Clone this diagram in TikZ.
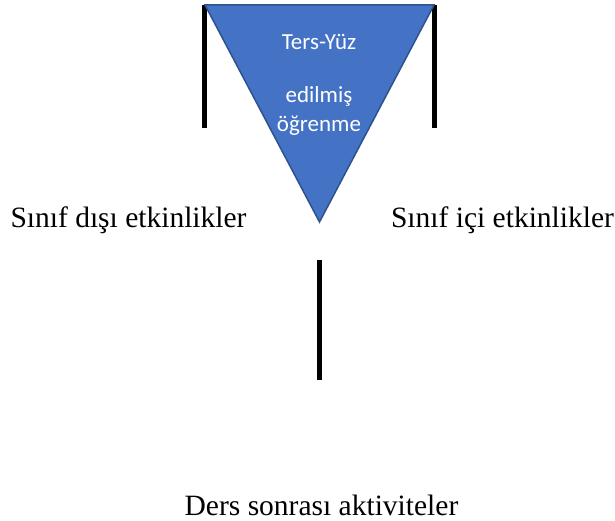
\documentclass[tikz,border=0pt]{standalone}
\usepackage{fontspec}
\setmainfont{Liberation Serif}
\newfontfamily\calib{Carlito}
\definecolor{triFill}{HTML}{4472C4}
\definecolor{triEdge}{HTML}{2F528F}
\begin{document}
\begin{tikzpicture}[x=1pt,y=-1pt]
\tikzset{
  bar/.style={line width=5pt,black},
  lbl/.style={font=\fontsize{29.5}{32}\selectfont,anchor=base,inner sep=0pt},
  tri/.style={font=\calib\fontsize{23}{25}\selectfont,text=white,anchor=base,inner sep=0pt}
}
\useasboundingbox (0,0) rectangle (615,521);
\coordinate (tl) at (205,5);
\coordinate (tr) at (434,5);
\coordinate (bt) at (319.5,222);
\draw[bar] (204.5,5) -- (204.5,128);
\draw[bar] (434.5,5) -- (434.5,128);
\draw[fill=triFill,draw=triEdge,line width=1.5pt,line join=miter] (tl) -- (tr) -- (bt) -- cycle;
\coordinate (ms) at (319,260);
\coordinate (me) at (319,380);
\draw[bar] (ms) -- (me);
\node[tri] (t1) at (319,50) {Ters-Yüz};
\node[tri] (t2) at (319,103) {edilmiş};
\node[tri] (t3) at (319,132) {öğrenme};
\node[lbl] (l1) at (128.5,228) {Sınıf dışı etkinlikler};
\node[lbl] (l2) at (502.5,228) {Sınıf içi etkinlikler};
\node[lbl] (l3) at (321.5,515) {Ders sonrası aktiviteler};
\end{tikzpicture}
\end{document}
